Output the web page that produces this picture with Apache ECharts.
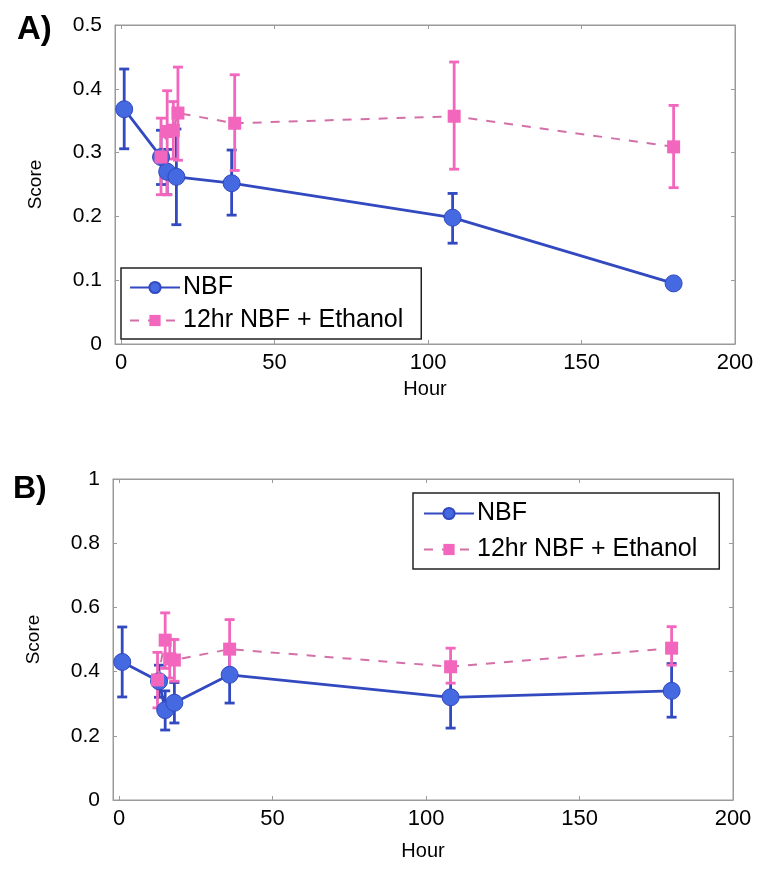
<!DOCTYPE html>
<html>
<head>
<meta charset="utf-8">
<script src="https://cdn.jsdelivr.net/npm/echarts@6/dist/echarts.min.js"></script>
<style>
html,body{margin:0;padding:0;background:#fff;}
#chart{width:759px;height:869px;}
</style>
</head>
<body>
<div id="chart"></div>
<script>
// ---- Data ----
const xTicks = [0, 50, 100, 150, 200];
const seriesNames = ['NBF', '12hr NBF + Ethanol'];

// Panel A
const hoursNBF_A = [1, 13, 15, 18, 36, 108, 180];
const scoreNBF_A = [0.368, 0.293, 0.27, 0.262, 0.252, 0.198, 0.095];
const lowNBF_A   = [0.306, 0.25, 0.234, 0.187, 0.202, 0.158, 0.095];
const highNBF_A  = [0.431, 0.335, 0.305, 0.337, 0.304, 0.236, 0.095];

const hoursEth_A = [13, 15, 17, 18.5, 37, 108.5, 180];
const scoreEth_A = [0.293, 0.333, 0.335, 0.362, 0.346, 0.357, 0.309];
const lowEth_A   = [0.234, 0.234, 0.29, 0.288, 0.272, 0.274, 0.245];
const highEth_A  = [0.354, 0.397, 0.38, 0.434, 0.422, 0.442, 0.374];

// Panel B
const hoursNBF_B = [1, 13, 15, 18, 36, 108, 180];
const scoreNBF_B = [0.43, 0.37, 0.28, 0.303, 0.39, 0.32, 0.34];
const lowNBF_B   = [0.321, 0.32, 0.218, 0.24, 0.302, 0.224, 0.258];
const highNBF_B  = [0.539, 0.42, 0.34, 0.366, 0.478, 0.416, 0.425];

const hoursEth_B = [12.5, 15, 16.5, 18, 36, 108, 180];
const scoreEth_B = [0.374, 0.498, 0.44, 0.436, 0.47, 0.415, 0.473];
const lowEth_B   = [0.287, 0.41, 0.38, 0.37, 0.39, 0.364, 0.42];
const highEth_B  = [0.46, 0.583, 0.5, 0.5, 0.562, 0.473, 0.54];

// ---- Styles ----
const FONT = 'Liberation Sans, Arial, sans-serif';
const BLUE_LINE = '#3249c0';
const BLUE_MARK = '#4469e0';
const PINK_MARK = '#f266bd';
const PINK_LINE = '#d470a8';
const FRAME = '#9a9a9a';
const TXT = '#000';

function pairs(xs, ys){ return xs.map((x,i)=>[x, ys[i]]); }
function errData(xs, lo, hi){ return xs.map((x,i)=>[x, lo[i], hi[i]]); }

function errSeries(name, xi, yi, data, color){
  return {
    type:'custom', name: name, xAxisIndex: xi, yAxisIndex: yi,
    data: data, encode:{x:0, y:[1,2]}, z: 2, silent:true,
    renderItem: function(params, api){
      const x = api.value(0), lo = api.value(1), hi = api.value(2);
      if (hi - lo < 1e-6) return null;
      const p1 = api.coord([x, lo]);
      const p2 = api.coord([x, hi]);
      const cw = 5;
      const st = {stroke: color, lineWidth: 2.8};
      return {type:'group', children:[
        {type:'line', shape:{x1:p1[0], y1:p1[1], x2:p2[0], y2:p2[1]}, style: st},
        {type:'line', shape:{x1:p1[0]-cw, y1:p1[1], x2:p1[0]+cw, y2:p1[1]}, style: st},
        {type:'line', shape:{x1:p2[0]-cw, y1:p2[1], x2:p2[0]+cw, y2:p2[1]}, style: st}
      ]};
    }
  };
}

function nbfLine(xi, yi, data){
  return {type:'line', name: seriesNames[0], xAxisIndex: xi, yAxisIndex: yi, data: data,
    symbol:'circle', symbolSize:17, z:3,
    lineStyle:{color:BLUE_LINE, width:2.8},
    itemStyle:{color:BLUE_MARK, borderColor:BLUE_LINE, borderWidth:1}};
}
function ethLine(xi, yi, data){
  return {type:'line', name: seriesNames[1], xAxisIndex: xi, yAxisIndex: yi, data: data,
    symbol:'rect', symbolSize:13, z:5,
    lineStyle:{color:PINK_LINE, width:2, type:[9,9]},
    itemStyle:{color:PINK_MARK}};
}

function xAx(gi, showLabel, name){
  return {
    type:'value', gridIndex: gi, min:-2, max:200,
    position: showLabel ? 'bottom' : 'top',
    name: showLabel ? name : '', nameLocation:'middle', nameGap: gi===0 ? 35 : 41,
    nameTextStyle:{fontFamily:FONT, fontSize:20, color:TXT},
    axisLine:{show:true, onZero:false, lineStyle:{color:FRAME, width:1}},
    axisTick:{show:true, inside:true, length:4, customValues: xTicks, lineStyle:{color:FRAME}},
    axisLabel:{show: showLabel, customValues: xTicks, margin:8, fontFamily:FONT, fontSize:22, color:TXT},
    splitLine:{show:false}
  };
}
function yAx(gi, showLabel, max, interval){
  return {
    type:'value', gridIndex: gi, min:0, max:max, interval:interval,
    position: showLabel ? 'left' : 'right',
    name: showLabel ? 'Score' : '', nameLocation:'middle', nameGap: 70,
    nameTextStyle:{fontFamily:FONT, fontSize:19, color:TXT},
    axisLine:{show:true, onZero:false, lineStyle:{color:FRAME, width:1}},
    axisTick:{show:true, inside:true, length:4, lineStyle:{color:FRAME}},
    axisLabel:{show: showLabel, margin:13, fontFamily:FONT, fontSize:21, color:TXT},
    splitLine:{show:false}
  };
}

const legendBase = {
  orient:'vertical', data: seriesNames,
  backgroundColor:'#fff', borderColor:'#222', borderWidth:1.5, borderRadius:0,
  padding:[7, 18, 6, 8], itemGap:8, itemWidth:50, itemHeight:14,
  textStyle:{fontFamily:FONT, fontSize:25, color:TXT, padding:[0,0,0,-2]}
};

const option = {
  animation:false,
  backgroundColor:'#fff',
  grid:[
    {left:115, top:25, width:620, height:319, show:true, borderColor:FRAME, borderWidth:1, backgroundColor:'#fff'},
    {left:113, top:479, width:620, height:321, show:true, borderColor:FRAME, borderWidth:1, backgroundColor:'#fff'}
  ],
  xAxis:[ xAx(0, true, 'Hour'), xAx(1, true, 'Hour'), xAx(0, false), xAx(1, false) ],
  yAxis:[ yAx(0, true, 0.5, 0.1), yAx(1, true, 1, 0.2), yAx(0, false, 0.5, 0.1), yAx(1, false, 1, 0.2) ],
  legend:[
    Object.assign({}, legendBase, {left:121, top:268}),
    Object.assign({}, legendBase, {left:413, top:493, itemGap:11, padding:[8, 22, 7, 10]})
  ],
  graphic:[
    {type:'text', left:17, top:13, style:{text:'A)', fontFamily:FONT, fontWeight:'bold', fontSize:33, fill:TXT}},
    {type:'text', left:13, top:473, style:{text:'B)', fontFamily:FONT, fontWeight:'bold', fontSize:32, fill:TXT}}
  ],
  series:[
    errSeries('errA1', 0, 0, errData(hoursNBF_A, lowNBF_A, highNBF_A), BLUE_LINE),
    nbfLine(0, 0, pairs(hoursNBF_A, scoreNBF_A)),
    errSeries('errA2', 0, 0, errData(hoursEth_A, lowEth_A, highEth_A), PINK_MARK),
    ethLine(0, 0, pairs(hoursEth_A, scoreEth_A)),
    errSeries('errB1', 1, 1, errData(hoursNBF_B, lowNBF_B, highNBF_B), BLUE_LINE),
    nbfLine(1, 1, pairs(hoursNBF_B, scoreNBF_B)),
    errSeries('errB2', 1, 1, errData(hoursEth_B, lowEth_B, highEth_B), PINK_MARK),
    ethLine(1, 1, pairs(hoursEth_B, scoreEth_B))
  ]
};

const chart = echarts.init(document.getElementById('chart'), null, {renderer:'canvas'});
chart.setOption(option);
</script>
</body>
</html>
